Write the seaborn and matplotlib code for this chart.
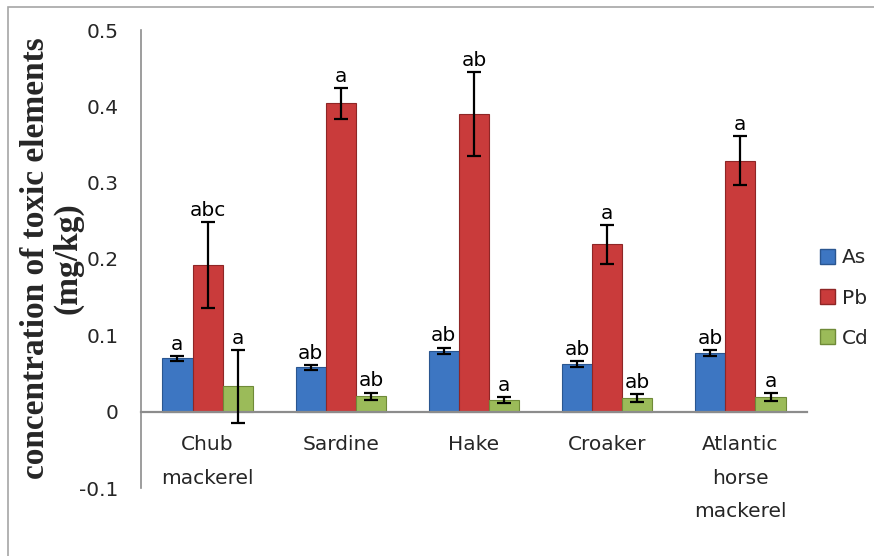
import numpy as np
import pandas as pd
import matplotlib.pyplot as plt
import seaborn as sns
from matplotlib.patches import Rectangle

fish = ["Chub\nmackerel", "Sardine", "Hake", "Croaker", "Atlantic\nhorse\nmackerel"]
elements = ["As", "Pb", "Cd"]

as_vals = [0.070, 0.058, 0.080, 0.062, 0.077]
pb_vals = [0.192, 0.404, 0.390, 0.219, 0.329]
cd_vals = [0.033, 0.020, 0.015, 0.018, 0.019]

as_err = [0.003, 0.003, 0.004, 0.004, 0.004]
pb_err = [0.056, 0.020, 0.055, 0.025, 0.032]
cd_err = [0.048, 0.005, 0.004, 0.005, 0.005]

as_lab = ["a", "ab", "ab", "ab", "ab"]
pb_lab = ["abc", "a", "ab", "a", "a"]
cd_lab = ["a", "ab", "a", "ab", "a"]

colors = ["#3d76c2", "#c93b3b", "#9bbb59"]
edges = ["#2a5690", "#8e2626", "#6f8a38"]

df = pd.DataFrame({
    "fish": fish * 3,
    "element": np.repeat(elements, len(fish)),
    "value": as_vals + pb_vals + cd_vals,
})

sns.set_style("white")
plt.rcParams["font.family"] = ["DejaVu Sans"]

fig = plt.figure(figsize=(8.74, 5.56), dpi=100)
ax = fig.add_axes([141 / 874, 1 - 488 / 556, 666 / 874, 458 / 556])

sns.barplot(
    data=df, x="fish", y="value", hue="element",
    palette=colors, saturation=1, width=0.68, gap=0, errorbar=None,
    ax=ax, legend=True,
)

errs = [as_err, pb_err, cd_err]
labs = [as_lab, pb_lab, cd_lab]
bar_groups = list(ax.containers)
for k, cont in enumerate(bar_groups):
    for j, bar in enumerate(cont):
        bar.set_edgecolor(edges[k])
        bar.set_linewidth(0.8)
        cx = bar.get_x() + bar.get_width() / 2
        h = bar.get_height()
        e = errs[k][j]
        ax.errorbar(cx, h, yerr=e, fmt="none", ecolor="black",
                    elinewidth=1.6, capsize=5, capthick=1.6, zorder=5)
        ax.text(cx, h + e + 0.008, labs[k][j], ha="center", va="baseline",
                fontsize=14.5, color="black")

ax.set_ylim(-0.1, 0.5)
ax.set_xlim(-0.5, 4.5)
ax.set_yticks([-0.1, 0, 0.1, 0.2, 0.3, 0.4, 0.5])
ax.set_yticklabels(["-0.1", "0", "0.1", "0.2", "0.3", "0.4", "0.5"])
ax.tick_params(axis="y", length=5, color="#8c8c8c", width=1, labelsize=14.5, pad=11)

# category names sit under the zero line, with wide line spacing
ax.set_xticks(range(len(fish)), [""] * len(fish))
ax.tick_params(axis="x", length=0)
for i, name in enumerate(fish):
    ax.text(i, -0.031, name, ha="center", va="top", fontsize=14.5,
            linespacing=1.95, clip_on=False)

for s in ["top", "right"]:
    ax.spines[s].set_visible(False)
ax.spines["left"].set_color("#8c8c8c")
ax.spines["left"].set_linewidth(1.2)
ax.spines["bottom"].set_position(("data", 0))
ax.spines["bottom"].set_color("#8c8c8c")
ax.spines["bottom"].set_linewidth(1.6)
ax.set_xlabel("")
ax.set_ylabel("")

fig.text(52 / 874, 1 - 258 / 556, "concentration of toxic elements\n(mg/kg)",
         rotation=90, ha="center", va="center", fontsize=24, fontweight="bold",
         family="Liberation Serif", linespacing=1.05)

handles, _ = ax.get_legend_handles_labels()
for h, ec in zip(handles, edges):
    h.set_edgecolor(ec)
ax.legend(handles, elements, loc="center left", frameon=False,
          bbox_to_anchor=(820 / 874, 1 - 298 / 556), bbox_transform=fig.transFigure,
          fontsize=14.5, handlelength=0.75, handleheight=0.75, handletextpad=0.35,
          labelspacing=1.05, borderaxespad=0, borderpad=0)

fig.patches.append(Rectangle((8 / 874, -0.1), 1.2, 1.1 - 7 / 556,
                             transform=fig.transFigure, fill=False,
                             edgecolor="#a6a6a6", linewidth=1.2))

fig.savefig("out.png", dpi=100)
